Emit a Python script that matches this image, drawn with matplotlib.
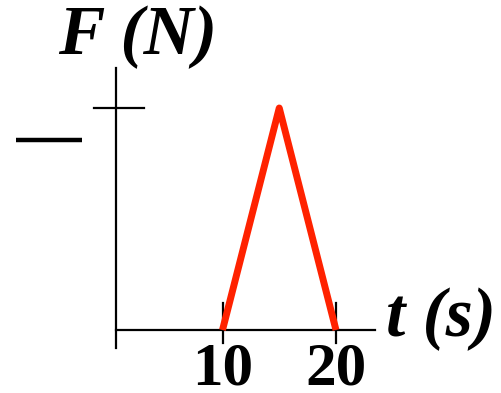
import matplotlib
matplotlib.use("Agg")
import matplotlib.pyplot as plt

# force pulse: rises from 10 s to a peak at 15 s, back to zero at 20 s
t_vals = [10, 15, 20]
f_vals = [0, 1, 0]
x_ticks = [10, 20]
x_tick_labels = ["10", "20"]

PX_PER_T = 11.35
T0_PX = 109
PX_PER_F = 222
F0_PX = 330
W, H = 501, 393

fig = plt.figure(figsize=(W / 100, H / 100), dpi=100)
ax = fig.add_axes([0, 0, 1, 1])
ax.set_xlim(-T0_PX / PX_PER_T, (W - T0_PX) / PX_PER_T)
ax.set_ylim(-(H - F0_PX) / PX_PER_F, F0_PX / PX_PER_F)
ax.axis("off")

font = dict(family="Liberation Serif", weight="bold")

# axes lines
y_axis_t = 0.62
ax.plot([y_axis_t, y_axis_t], [-0.08, 1.18], color="black", lw=1.6)
ax.plot([y_axis_t, 23.4], [0, 0], color="black", lw=1.6)

# ticks
for t, lab in zip(x_ticks, x_tick_labels):
    ax.plot([t, t], [-0.06, 0.12], color="black", lw=1.6)
    ax.text(t, -0.245, lab, ha="center", va="baseline", fontsize=44, **font)
ax.plot([-1.3, 3.1], [1, 1], color="black", lw=1.6)
# dash left of the peak tick (unknown value)
ax.plot([-8.2, -2.4], [0.855, 0.855], color="black", lw=3.2, solid_capstyle="butt")

# the pulse
ax.plot(t_vals, f_vals, color="#ff2200", lw=5, solid_capstyle="butt")

ax.text(2.5, 1.32, "F (N)", ha="center", va="center", style="italic", fontsize=50, **font)
ax.text(24.4, 0.05, "t (s)", ha="left", va="center", style="italic", fontsize=50, **font)

fig.savefig("out.png", dpi=100)
